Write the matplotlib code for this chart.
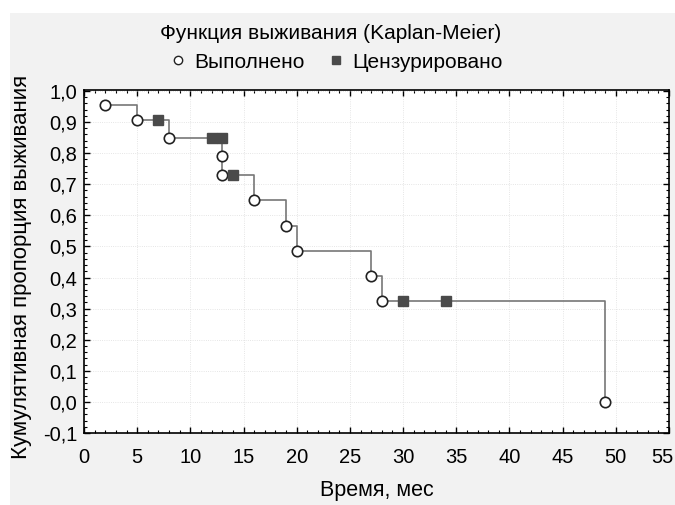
import numpy as np
import matplotlib
matplotlib.use('Agg')
import matplotlib.pyplot as plt
from matplotlib.lines import Line2D
from matplotlib.patches import Rectangle
from matplotlib.ticker import MultipleLocator, FuncFormatter
from matplotlib.transforms import blended_transform_factory, ScaledTranslation

plt.rcParams['font.family'] = ['Liberation Sans', 'DejaVu Sans']

# Kaplan-Meier data
event_times = [2, 5, 8, 13, 13, 16, 19, 20, 27, 28, 49]
event_surv = [0.955, 0.905, 0.849, 0.79, 0.73, 0.65, 0.567, 0.486, 0.405, 0.324, 0.0]
cens_times = [7, 12, 13, 14, 30, 34]
cens_surv = [0.905, 0.849, 0.849, 0.73, 0.324, 0.324]

x_ticks = [0, 5, 10, 15, 20, 25, 30, 35, 40, 45, 50, 55]

title = 'Функция выживания (Kaplan-Meier)'
event_label = 'Выполнено'
cens_label = 'Цензурировано'
x_label = 'Время, мес'
y_label = 'Кумулятивная пропорция выживания'

W, H = 675, 505
fig = plt.figure(figsize=(W / 100, H / 100), dpi=100)
fig.patch.set_facecolor('white')
fig.patches.append(Rectangle((10 / W, 0), 1 - 10 / W, 1 - 13 / H,
                             transform=fig.transFigure, facecolor='#f2f2f2',
                             edgecolor='none', zorder=-10))

ax = fig.add_axes([84 / W, 1 - 433 / H, (669 - 84) / W, (433 - 90) / H])
ax.set_facecolor('white')

# step line through all points (events + censored), sorted by time
pts = sorted(zip(event_times + cens_times, event_surv + cens_surv),
             key=lambda p: (p[0], -p[1]))
line_t = [p[0] for p in pts]
line_s = [p[1] for p in pts]
ax.step(line_t, line_s, where='post', color='#777777', lw=1.2, zorder=2)

ax.plot(event_times, event_surv, 'o', ms=7.5, mfc='white', mec='#222222',
        mew=1.2, zorder=3)
ax.plot(cens_times, cens_surv, 's', ms=7, mfc='#4a4a4a', mec='#4a4a4a',
        zorder=3)

ax.set_xlim(0, 55)
ax.set_ylim(-0.1, 1.003)
# last label (55) is drawn separately, pushed inside the figure edge
ax.set_xticks(x_ticks, labels=[str(t) for t in x_ticks[:-1]] + [''])
ax.xaxis.set_minor_locator(MultipleLocator(1))
ax.yaxis.set_major_locator(MultipleLocator(0.1))
ax.yaxis.set_minor_locator(MultipleLocator(0.02))
ax.yaxis.set_major_formatter(FuncFormatter(lambda v, p: f'{v:.1f}'.replace('.', ',').replace('-0,0', '0,0')))

ax.tick_params(which='both', direction='in', top=True, right=True, colors='black')
ax.tick_params(which='major', length=4, width=1, labelsize=14.5)
ax.tick_params(axis='x', which='major', pad=11)
ax.tick_params(axis='y', which='major', pad=5)
ax.tick_params(which='minor', length=2.5, width=0.8)
ax.grid(True, which='major', color='#dddddd', lw=0.6, ls=':')
ax.set_axisbelow(True)
for sp in ax.spines.values():
    sp.set_color('black')
    sp.set_linewidth(1.2)

# same vertical placement as the other tick labels
last_trans = (blended_transform_factory(fig.transFigure, ax.transAxes)
              + ScaledTranslation(0, -11 / 72, fig.dpi_scale_trans))
ax.text(673 / W, 0, str(x_ticks[-1]), fontsize=14.5, ha='right', va='top',
        transform=last_trans)

ax.set_xlabel(x_label, fontsize=15.5, labelpad=9)
fig.text(22 / W, 1 - 267 / H, y_label, rotation=90, fontsize=16,
         ha='center', va='center')

fig.text(331 / W, 1 - 33 / H, title, fontsize=15, ha='center', va='center')
handles = [
    Line2D([], [], ls='none', marker='o', ms=6, mfc='white', mec='#222222', mew=1),
    Line2D([], [], ls='none', marker='s', ms=5.5, mfc='#4a4a4a', mec='#4a4a4a'),
]
fig.legend(handles, [event_label, cens_label], loc='center',
           bbox_to_anchor=(335 / W, 1 - 62 / H), ncol=2, frameon=False,
           fontsize=15, handletextpad=0.3, columnspacing=1.0, handlelength=1.0)

fig.savefig('out.png', dpi=100)
